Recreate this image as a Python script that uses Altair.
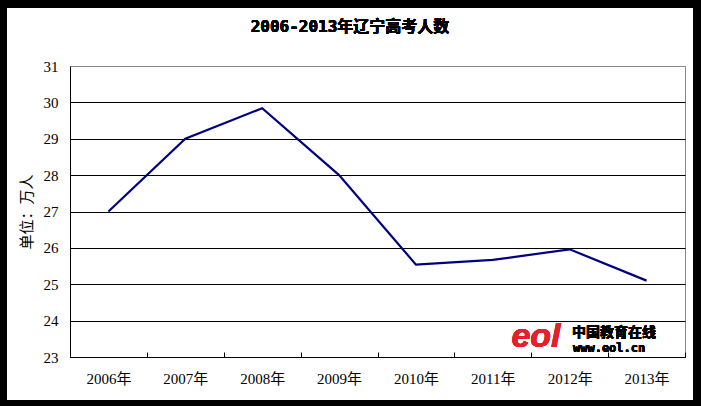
import altair as alt
import pandas as pd

years = ["2006年", "2007年", "2008年", "2009年", "2010年", "2011年", "2012年", "2013年"]
counts = [27.0, 29.0, 29.84, 28.0, 25.54, 25.67, 25.96, 25.1]
y_ticks = [23, 24, 25, 26, 27, 28, 29, 30, 31]
title_text = "2006-2013年辽宁高考人数"

df = pd.DataFrame({"year": years, "count": counts})

LABEL_FONT = "Liberation Serif, Noto Sans CJK SC"

x_enc = alt.X(
    "year:N",
    sort=years,
    scale=alt.Scale(paddingInner=0, paddingOuter=0),
    axis=alt.Axis(
        title=None,
        labelAngle=0,
        tickBand="extent",
        tickSize=alt.ExprRef(expr="-5"),
        tickColor="black",
        domainColor="black",
        labelPadding=19,
        labelFont=LABEL_FONT,
        labelFontSize=15,
        labelColor="black",
        grid=False,
    ),
)

y_enc = alt.Y(
    "count:Q",
    scale=alt.Scale(domain=[23, 31], nice=False, zero=False),
    axis=alt.Axis(
        title="单位：万人",
        titleFont=LABEL_FONT,
        titleFontSize=15,
        titleFontWeight="normal",
        titleColor="black",
        titlePadding=9,
        values=y_ticks,
        ticks=False,
        labelPadding=12,
        labelFont=LABEL_FONT,
        labelFontSize=15,
        labelColor="black",
        domainColor="black",
        grid=True,
        gridColor={"condition": {"test": "datum.value == 31", "value": "#888888"}, "value": "black"},
        gridOpacity=1,
    ),
)

line = alt.Chart(df).mark_line(color="#000080", strokeWidth=2.2).encode(x=x_enc, y=y_enc)

title = alt.Chart(df).mark_text(
    text=title_text, color="black", fontSize=16, fontWeight="bold",
    font="DejaVu Sans Mono, Noto Sans CJK SC", align="center", baseline="middle"
).encode(x=alt.value(280), y=alt.value(-39))

logo_e = alt.Chart(df).mark_text(
    text="eol", color="#e3202b", fontSize=34, fontWeight="bold", fontStyle="italic",
    font="Liberation Sans", align="center", baseline="alphabetic"
).encode(x=alt.value(466), y=alt.value(281))

logo_cn = alt.Chart(df).mark_text(
    text="中国教育在线", color="black", fontSize=14, fontWeight="bold",
    font="Noto Sans CJK SC", align="left", baseline="alphabetic"
).encode(x=alt.value(502), y=alt.value(271))

logo_url = alt.Chart(df).mark_text(
    text="www.eol.cn", color="black", fontSize=12, fontWeight="bold",
    font="DejaVu Sans Mono", align="left", baseline="alphabetic"
).encode(x=alt.value(503), y=alt.value(286))

frame = alt.Chart(df).mark_rect(
    fillOpacity=0, stroke="black", strokeWidth=8
).encode(x=alt.value(-67), x2=alt.value(627), y=alt.value(-62), y2=alt.value(338))

chart = (
    alt.layer(line, title, logo_e, logo_cn, logo_url, frame)
    .properties(
        width=615,
        height=291,
        padding={"left": 70, "top": 66, "right": 16, "bottom": 49},
        autosize=alt.AutoSizeParams(type="none"),
        background="white",
    )
    .configure_view(stroke="#888888", strokeWidth=1)
)

chart.save("out.html", embed_options={"renderer": "svg", "actions": False})
